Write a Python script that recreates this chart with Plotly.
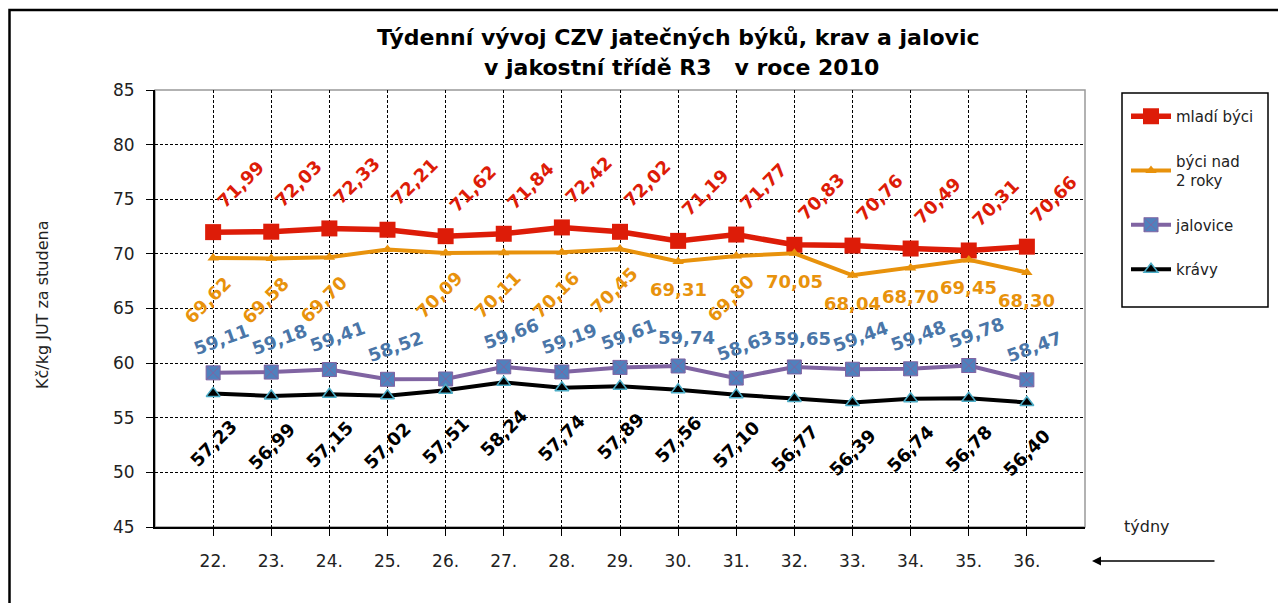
import plotly.graph_objects as go

# ---------------- data ----------------
weeks = ["22.", "23.", "24.", "25.", "26.", "27.", "28.", "29.", "30.", "31.", "32.", "33.", "34.", "35.", "36."]
mladi_byci = [71.99, 72.03, 72.33, 72.21, 71.62, 71.84, 72.42, 72.02, 71.19, 71.77, 70.83, 70.76, 70.49, 70.31, 70.66]
byci_nad_2_roky = [69.62, 69.58, 69.70, 70.40, 70.09, 70.11, 70.16, 70.45, 69.31, 69.80, 70.05, 68.04, 68.70, 69.45, 68.30]
jalovice = [59.11, 59.18, 59.41, 58.52, 58.55, 59.66, 59.19, 59.61, 59.74, 58.63, 59.65, 59.44, 59.48, 59.78, 58.47]
kravy = [57.23, 56.99, 57.15, 57.02, 57.51, 58.24, 57.74, 57.89, 57.56, 57.10, 56.77, 56.39, 56.74, 56.78, 56.40]
series_names = ["mladí býci", "býci nad<br>2 roky", "jalovice", "krávy"]
# points whose data label is not visible in the original
hidden_labels = {1: [3], 2: [4]}

title_1 = "Týdenní vývoj CZV jatečných býků, krav a jalovic"
title_2 = "v jakostní třídě R3   v roce 2010"
y_title = "Kč/kg JUT za studena"
x_title = "týdny"

# ---------------- styling ----------------
FONT = "DejaVu Sans"
OFF = 8                                   # default body margin of the page
W, H = 1286, 605
L, R, T, B = 155, 1085, 90, 527          # plot area in screen pixels
PW, PH = R - L, B - T

def px(x):
    return (x - L) / PW

def py(y):
    return (B - y) / PH

xi = list(range(len(weeks)))

styles = [
    dict(line=dict(color="#DD1C08", width=5.5),
         marker=dict(symbol="square", size=16, color="#DD1C08")),
    dict(line=dict(color="#E8920C", width=4),
         marker=dict(symbol="triangle-up", size=10, color="#E8920C")),
    dict(line=dict(color="#8064A2", width=4),
         marker=dict(symbol="square-x", size=14, color="#4F81BD",
                     line=dict(color="#8064A2", width=1))),
    dict(line=dict(color="#000000", width=4),
         marker=dict(symbol="triangle-up", size=12, color="#000000",
                     line=dict(color="#4BACC6", width=1.5))),
]
label_colors = ["#DD1C08", "#E8920C", "#4A76A8", "#000000"]
label_dx = [27, -6, 8, 0]
label_dy = [-48, 42, -33, 50]
orange_angles = [-45, -45, -45, -45, -45, -45, -45, -45, 0, -45, 0, 0, 0, 0, 0]
blue_angles = [-20, -20, -20, -20, -20, -20, -20, -20, 0, -20, 0, -20, -20, -20, -20]
angles = [[-45] * 15, orange_angles, blue_angles, [-45] * 15]

all_series = [mladi_byci, byci_nad_2_roky, jalovice, kravy]

fig = go.Figure()
for k, (vals, name, st) in enumerate(zip(all_series, series_names, styles)):
    fig.add_trace(go.Scatter(
        x=xi, y=vals, name=name, mode="lines+markers",
        legendgroup=f"g{k}", cliponaxis=False, **st))

annotations = []
for k, vals in enumerate(all_series):
    hid = hidden_labels.get(k, [])
    for i, v in enumerate(vals):
        if i in hid:
            continue
        ang = angles[k][i]
        dy = label_dy[k]
        dx = label_dx[k]
        if k == 1 and ang == 0:
            dy, dx = 28, 0
        if k == 2 and ang == 0:
            dy = -28
        annotations.append(dict(
            x=xi[i], y=v, xref="x", yref="y",
            text=f"{v:.2f}".replace(".", ","), showarrow=False,
            textangle=ang, xshift=dx, yshift=-dy,
            xanchor="center", yanchor="middle",
            font=dict(family=FONT, size=18, color=label_colors[k], weight="bold")))

def text_ann(x, y, text, size, color="#222", angle=0, bold=False):
    return dict(x=px(x), y=py(y), xref="paper", yref="paper",
                text=f"<b>{text}</b>" if bold else text, showarrow=False,
                textangle=angle, xanchor="center", yanchor="middle",
                font=dict(family=FONT, size=size, color=color))

annotations.append(text_ann(678, 38, title_1, 22, "#000", bold=True))
annotations.append(text_ann(681, 67, title_2, 22, "#000", bold=True))
annotations.append(text_ann(42, 305, y_title, 16, angle=-90))
annotations.append(text_ann(1147, 526, x_title, 16))
# arrow
annotations.append(dict(x=px(1092), y=py(561), xref="paper", yref="paper", text="",
                        showarrow=True, ax=124, ay=0, arrowhead=2, arrowsize=1.2,
                        arrowwidth=1.5, arrowcolor="#000"))

shapes = [
    dict(type="rect", xref="paper", yref="paper", x0=px(OFF + 1.5), x1=px(1295), y0=py(640), y1=py(10),
         line=dict(color="#000", width=2.5), layer="below"),
    dict(type="rect", xref="paper", yref="paper", x0=0, x1=1, y0=0, y1=1,
         line=dict(color="#999", width=1.5), layer="below"),
    dict(type="rect", xref="paper", yref="paper", x0=px(1122), x1=px(1268), y0=py(307), y1=py(93),
         line=dict(color="#000", width=1.5)),
]

fig.update_layout(
    width=W - OFF, height=H - OFF - 2,
    margin=dict(l=L - OFF, r=W - R, t=T - OFF, b=H - B - 2),
    paper_bgcolor="white", plot_bgcolor="white",
    font=dict(family=FONT, size=16, color="#222"),
    showlegend=True,
    legend=dict(x=px(1126), y=py(100), xanchor="left", yanchor="top",
                bgcolor="rgba(0,0,0,0)", borderwidth=0,
                font=dict(family=FONT, size=15, color="#222"),
                tracegroupgap=22, itemwidth=40),
    annotations=annotations,
    shapes=shapes,
)
fig.update_xaxes(
    range=[-1, len(weeks)], tickmode="array", tickvals=xi, ticktext=weeks,
    showgrid=True, gridcolor="#000", griddash="3px,2px", gridwidth=1,
    showline=True, linecolor="#000", linewidth=2,
    ticks="outside", ticklen=7, tickcolor="#000", ticklabelstandoff=11,
    tickfont=dict(family=FONT, size=17, color="#222"), zeroline=False, fixedrange=True)
fig.update_yaxes(
    range=[45, 85], dtick=5, tick0=45,
    showgrid=True, gridcolor="#000", griddash="3px,2px", gridwidth=1,
    showline=True, linecolor="#000", linewidth=2,
    ticks="outside", ticklen=7, tickcolor="#000", ticklabelstandoff=8,
    tickfont=dict(family=FONT, size=17, color="#222"), zeroline=False, fixedrange=True)

fig.write_html("out.html")
